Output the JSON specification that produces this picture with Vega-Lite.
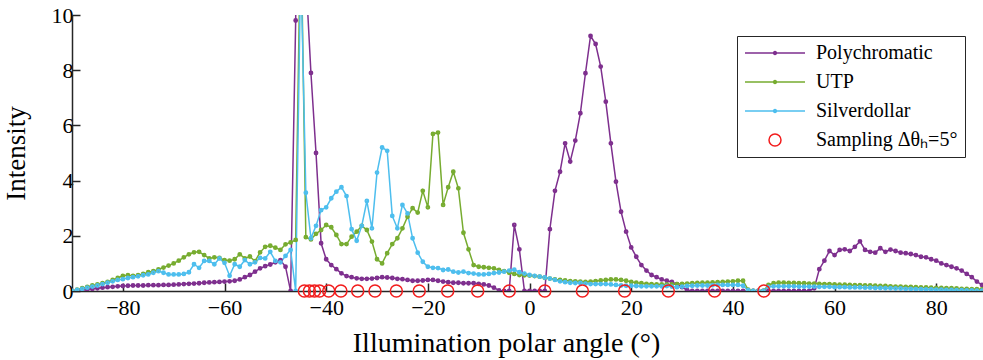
{
"$schema":"https://vega.github.io/schema/vega-lite/v6.json",
"autosize":{"type":"none"},
"padding":{"left":72,"top":15,"right":0,"bottom":69},
"width":911,"height":276,
"background":"white",
"config":{"view":{"stroke":null},
"axis":{"grid":false,"domainColor":"#262626","domainWidth":1.5,"tickColor":"#262626","tickWidth":1.5,"labelFont":"Liberation Serif","labelFontSize":22,"labelColor":"black","titleFont":"Liberation Serif","titleFontSize":27,"titleFontWeight":"normal","titleColor":"black","labelFlush":false,"labelOverlap":false},
"legend":{"orient":"none","legendX":665,"legendY":21,"strokeColor":"#262626","fillColor":"white","padding":7,"labelFont":"Liberation Serif","labelFontSize":20,"labelColor":"black","symbolSize":3600,"clipHeight":20,"rowPadding":9,"labelOffset":10,"symbolStrokeWidth":1.5,"symbolFillColor":"transparent","symbolOpacity":1}},
"layer":[
{"data":{"values":[
{"series":"Polychromatic","x":-90,"y":0},{"series":"Polychromatic","x":-89,"y":0.02},{"series":"Polychromatic","x":-88,"y":0.04},{"series":"Polychromatic","x":-87,"y":0.06},{"series":"Polychromatic","x":-86,"y":0.08},{"series":"Polychromatic","x":-85,"y":0.1},{"series":"Polychromatic","x":-84,"y":0.12},{"series":"Polychromatic","x":-83,"y":0.14},{"series":"Polychromatic","x":-82,"y":0.15},{"series":"Polychromatic","x":-81,"y":0.17},
{"series":"Polychromatic","x":-80,"y":0.18},{"series":"Polychromatic","x":-79,"y":0.19},{"series":"Polychromatic","x":-78,"y":0.2},{"series":"Polychromatic","x":-77,"y":0.2},{"series":"Polychromatic","x":-76,"y":0.2},{"series":"Polychromatic","x":-75,"y":0.21},{"series":"Polychromatic","x":-74,"y":0.21},{"series":"Polychromatic","x":-73,"y":0.21},{"series":"Polychromatic","x":-72,"y":0.22},{"series":"Polychromatic","x":-71,"y":0.22},
{"series":"Polychromatic","x":-70,"y":0.23},{"series":"Polychromatic","x":-69,"y":0.24},{"series":"Polychromatic","x":-68,"y":0.25},{"series":"Polychromatic","x":-67,"y":0.26},{"series":"Polychromatic","x":-66,"y":0.27},{"series":"Polychromatic","x":-65,"y":0.28},{"series":"Polychromatic","x":-64,"y":0.3},{"series":"Polychromatic","x":-63,"y":0.31},{"series":"Polychromatic","x":-62,"y":0.32},{"series":"Polychromatic","x":-61,"y":0.33},
{"series":"Polychromatic","x":-60,"y":0.34},{"series":"Polychromatic","x":-59,"y":0.35},{"series":"Polychromatic","x":-58,"y":0.37},{"series":"Polychromatic","x":-57,"y":0.42},{"series":"Polychromatic","x":-56,"y":0.5},{"series":"Polychromatic","x":-55,"y":0.58},{"series":"Polychromatic","x":-54,"y":0.7},{"series":"Polychromatic","x":-53,"y":0.82},{"series":"Polychromatic","x":-52,"y":0.9},{"series":"Polychromatic","x":-51,"y":0.96},
{"series":"Polychromatic","x":-50,"y":1.04},{"series":"Polychromatic","x":-49,"y":1.12},{"series":"Polychromatic","x":-48,"y":0.88},{"series":"Polychromatic","x":-47,"y":0},{"series":"Polychromatic","x":-46,"y":9.8},{"series":"Polychromatic","x":-45,"y":30},{"series":"Polychromatic","x":-44,"y":11.4},{"series":"Polychromatic","x":-43,"y":7.9},{"series":"Polychromatic","x":-42,"y":5.0},{"series":"Polychromatic","x":-41,"y":1.73},
{"series":"Polychromatic","x":-40,"y":1.15},{"series":"Polychromatic","x":-39,"y":0.94},{"series":"Polychromatic","x":-38,"y":0.79},{"series":"Polychromatic","x":-37,"y":0.64},{"series":"Polychromatic","x":-36,"y":0.54},{"series":"Polychromatic","x":-35,"y":0.5},{"series":"Polychromatic","x":-34,"y":0.46},{"series":"Polychromatic","x":-33,"y":0.44},{"series":"Polychromatic","x":-32,"y":0.44},{"series":"Polychromatic","x":-31,"y":0.45},
{"series":"Polychromatic","x":-30,"y":0.47},{"series":"Polychromatic","x":-29,"y":0.5},{"series":"Polychromatic","x":-28,"y":0.49},{"series":"Polychromatic","x":-27,"y":0.47},{"series":"Polychromatic","x":-26,"y":0.44},{"series":"Polychromatic","x":-25,"y":0.43},{"series":"Polychromatic","x":-24,"y":0.4},{"series":"Polychromatic","x":-23,"y":0.37},{"series":"Polychromatic","x":-22,"y":0.37},{"series":"Polychromatic","x":-21,"y":0.38},
{"series":"Polychromatic","x":-20,"y":0.4},{"series":"Polychromatic","x":-19,"y":0.4},{"series":"Polychromatic","x":-18,"y":0.37},{"series":"Polychromatic","x":-17,"y":0.34},{"series":"Polychromatic","x":-16,"y":0.32},{"series":"Polychromatic","x":-15,"y":0.3},{"series":"Polychromatic","x":-14,"y":0.3},{"series":"Polychromatic","x":-13,"y":0.28},{"series":"Polychromatic","x":-12,"y":0.28},{"series":"Polychromatic","x":-11,"y":0.28},
{"series":"Polychromatic","x":-10,"y":0.26},{"series":"Polychromatic","x":-9,"y":0.24},{"series":"Polychromatic","x":-8,"y":0.2},{"series":"Polychromatic","x":-7,"y":0.12},{"series":"Polychromatic","x":-6,"y":0.02},{"series":"Polychromatic","x":-5,"y":0},{"series":"Polychromatic","x":-4,"y":0},{"series":"Polychromatic","x":-3,"y":2.39},{"series":"Polychromatic","x":-2,"y":1.51},{"series":"Polychromatic","x":-1,"y":0},
{"series":"Polychromatic","x":0,"y":0},{"series":"Polychromatic","x":1,"y":0},{"series":"Polychromatic","x":2,"y":0},{"series":"Polychromatic","x":3,"y":0},{"series":"Polychromatic","x":4,"y":2.24},{"series":"Polychromatic","x":5,"y":3.63},{"series":"Polychromatic","x":6,"y":4.32},{"series":"Polychromatic","x":7,"y":5.35},{"series":"Polychromatic","x":8,"y":4.69},{"series":"Polychromatic","x":9,"y":5.45},
{"series":"Polychromatic","x":10,"y":6.44},{"series":"Polychromatic","x":11,"y":7.89},{"series":"Polychromatic","x":12,"y":9.24},{"series":"Polychromatic","x":13,"y":8.95},{"series":"Polychromatic","x":14,"y":8.13},{"series":"Polychromatic","x":15,"y":6.86},{"series":"Polychromatic","x":16,"y":5.35},{"series":"Polychromatic","x":17,"y":3.96},{"series":"Polychromatic","x":18,"y":2.87},{"series":"Polychromatic","x":19,"y":2.15},
{"series":"Polychromatic","x":20,"y":1.58},{"series":"Polychromatic","x":21,"y":1.24},{"series":"Polychromatic","x":22,"y":0.94},{"series":"Polychromatic","x":23,"y":0.74},{"series":"Polychromatic","x":24,"y":0.58},{"series":"Polychromatic","x":25,"y":0.5},{"series":"Polychromatic","x":26,"y":0.42},{"series":"Polychromatic","x":27,"y":0.37},{"series":"Polychromatic","x":28,"y":0.33},{"series":"Polychromatic","x":29,"y":0.25},
{"series":"Polychromatic","x":30,"y":0.14},{"series":"Polychromatic","x":31,"y":0.03},{"series":"Polychromatic","x":32,"y":0},{"series":"Polychromatic","x":33,"y":0},{"series":"Polychromatic","x":34,"y":0},{"series":"Polychromatic","x":35,"y":0},{"series":"Polychromatic","x":36,"y":0},{"series":"Polychromatic","x":37,"y":0},{"series":"Polychromatic","x":38,"y":0},{"series":"Polychromatic","x":39,"y":0},
{"series":"Polychromatic","x":40,"y":0},{"series":"Polychromatic","x":41,"y":0},{"series":"Polychromatic","x":42,"y":0},{"series":"Polychromatic","x":43,"y":0},{"series":"Polychromatic","x":44,"y":0},{"series":"Polychromatic","x":45,"y":0},{"series":"Polychromatic","x":46,"y":0},{"series":"Polychromatic","x":47,"y":0},{"series":"Polychromatic","x":48,"y":0},{"series":"Polychromatic","x":49,"y":0},
{"series":"Polychromatic","x":50,"y":0},{"series":"Polychromatic","x":51,"y":0},{"series":"Polychromatic","x":52,"y":0},{"series":"Polychromatic","x":53,"y":0},{"series":"Polychromatic","x":54,"y":0},{"series":"Polychromatic","x":55,"y":0},{"series":"Polychromatic","x":56,"y":0.1},{"series":"Polychromatic","x":57,"y":0.79},{"series":"Polychromatic","x":58,"y":1.1},{"series":"Polychromatic","x":59,"y":1.45},
{"series":"Polychromatic","x":60,"y":1.3},{"series":"Polychromatic","x":61,"y":1.49},{"series":"Polychromatic","x":62,"y":1.51},{"series":"Polychromatic","x":63,"y":1.45},{"series":"Polychromatic","x":64,"y":1.6},{"series":"Polychromatic","x":65,"y":1.8},{"series":"Polychromatic","x":66,"y":1.49},{"series":"Polychromatic","x":67,"y":1.42},{"series":"Polychromatic","x":68,"y":1.39},{"series":"Polychromatic","x":69,"y":1.55},
{"series":"Polychromatic","x":70,"y":1.42},{"series":"Polychromatic","x":71,"y":1.5},{"series":"Polychromatic","x":72,"y":1.45},{"series":"Polychromatic","x":73,"y":1.39},{"series":"Polychromatic","x":74,"y":1.37},{"series":"Polychromatic","x":75,"y":1.34},{"series":"Polychromatic","x":76,"y":1.3},{"series":"Polychromatic","x":77,"y":1.24},{"series":"Polychromatic","x":78,"y":1.22},{"series":"Polychromatic","x":79,"y":1.15},
{"series":"Polychromatic","x":80,"y":1.1},{"series":"Polychromatic","x":81,"y":1.0},{"series":"Polychromatic","x":82,"y":0.94},{"series":"Polychromatic","x":83,"y":0.88},{"series":"Polychromatic","x":84,"y":0.82},{"series":"Polychromatic","x":85,"y":0.74},{"series":"Polychromatic","x":86,"y":0.62},{"series":"Polychromatic","x":87,"y":0.5},{"series":"Polychromatic","x":88,"y":0.34},{"series":"Polychromatic","x":89,"y":0.22},{"series":"Polychromatic","x":90,"y":0.1},
{"series":"UTP","x":-90,"y":0},{"series":"UTP","x":-89,"y":0.05},{"series":"UTP","x":-88,"y":0.1},{"series":"UTP","x":-87,"y":0.15},{"series":"UTP","x":-86,"y":0.2},{"series":"UTP","x":-85,"y":0.24},{"series":"UTP","x":-84,"y":0.28},{"series":"UTP","x":-83,"y":0.33},{"series":"UTP","x":-82,"y":0.4},{"series":"UTP","x":-81,"y":0.47},
{"series":"UTP","x":-80,"y":0.55},{"series":"UTP","x":-79,"y":0.57},{"series":"UTP","x":-78,"y":0.55},{"series":"UTP","x":-77,"y":0.57},{"series":"UTP","x":-76,"y":0.62},{"series":"UTP","x":-75,"y":0.68},{"series":"UTP","x":-74,"y":0.72},{"series":"UTP","x":-73,"y":0.78},{"series":"UTP","x":-72,"y":0.85},{"series":"UTP","x":-71,"y":0.92},
{"series":"UTP","x":-70,"y":1.0},{"series":"UTP","x":-69,"y":1.1},{"series":"UTP","x":-68,"y":1.22},{"series":"UTP","x":-67,"y":1.33},{"series":"UTP","x":-66,"y":1.4},{"series":"UTP","x":-65,"y":1.42},{"series":"UTP","x":-64,"y":1.3},{"series":"UTP","x":-63,"y":1.18},{"series":"UTP","x":-62,"y":1.22},{"series":"UTP","x":-61,"y":1.2},
{"series":"UTP","x":-60,"y":1.12},{"series":"UTP","x":-59,"y":1.1},{"series":"UTP","x":-58,"y":1.15},{"series":"UTP","x":-57,"y":1.33},{"series":"UTP","x":-56,"y":1.18},{"series":"UTP","x":-55,"y":1.25},{"series":"UTP","x":-54,"y":1.08},{"series":"UTP","x":-53,"y":1.4},{"series":"UTP","x":-52,"y":1.6},{"series":"UTP","x":-51,"y":1.64},
{"series":"UTP","x":-50,"y":1.57},{"series":"UTP","x":-49,"y":1.49},{"series":"UTP","x":-48,"y":1.69},{"series":"UTP","x":-47,"y":1.76},{"series":"UTP","x":-46,"y":1.85},{"series":"UTP","x":-45,"y":13.5},{"series":"UTP","x":-44,"y":1.95},{"series":"UTP","x":-43,"y":1.87},{"series":"UTP","x":-42,"y":2.07},{"series":"UTP","x":-41,"y":2.21},
{"series":"UTP","x":-40,"y":2.39},{"series":"UTP","x":-39,"y":2.31},{"series":"UTP","x":-38,"y":2.03},{"series":"UTP","x":-37,"y":1.7},{"series":"UTP","x":-36,"y":1.7},{"series":"UTP","x":-35,"y":1.97},{"series":"UTP","x":-34,"y":2.15},{"series":"UTP","x":-33,"y":2.36},{"series":"UTP","x":-32,"y":2.21},{"series":"UTP","x":-31,"y":1.79},
{"series":"UTP","x":-30,"y":1.15},{"series":"UTP","x":-29,"y":1.0},{"series":"UTP","x":-28,"y":1.37},{"series":"UTP","x":-27,"y":1.7},{"series":"UTP","x":-26,"y":1.91},{"series":"UTP","x":-25,"y":2.27},{"series":"UTP","x":-24,"y":2.69},{"series":"UTP","x":-23,"y":3.0},{"series":"UTP","x":-22,"y":2.84},{"series":"UTP","x":-21,"y":3.63},
{"series":"UTP","x":-20,"y":3.03},{"series":"UTP","x":-19,"y":5.69},{"series":"UTP","x":-18,"y":5.74},{"series":"UTP","x":-17,"y":3.12},{"series":"UTP","x":-16,"y":3.76},{"series":"UTP","x":-15,"y":4.32},{"series":"UTP","x":-14,"y":3.72},{"series":"UTP","x":-13,"y":2.11},{"series":"UTP","x":-12,"y":1.51},{"series":"UTP","x":-11,"y":0.94},
{"series":"UTP","x":-10,"y":0.88},{"series":"UTP","x":-9,"y":0.86},{"series":"UTP","x":-8,"y":0.84},{"series":"UTP","x":-7,"y":0.82},{"series":"UTP","x":-6,"y":0.76},{"series":"UTP","x":-5,"y":0.72},{"series":"UTP","x":-4,"y":0.66},{"series":"UTP","x":-3,"y":0.62},{"series":"UTP","x":-2,"y":0.58},{"series":"UTP","x":-1,"y":0.57},
{"series":"UTP","x":0,"y":0.56},{"series":"UTP","x":1,"y":0.54},{"series":"UTP","x":2,"y":0.52},{"series":"UTP","x":3,"y":0.48},{"series":"UTP","x":4,"y":0.45},{"series":"UTP","x":5,"y":0.42},{"series":"UTP","x":6,"y":0.4},{"series":"UTP","x":7,"y":0.38},{"series":"UTP","x":8,"y":0.36},{"series":"UTP","x":9,"y":0.35},
{"series":"UTP","x":10,"y":0.34},{"series":"UTP","x":11,"y":0.33},{"series":"UTP","x":12,"y":0.34},{"series":"UTP","x":13,"y":0.36},{"series":"UTP","x":14,"y":0.38},{"series":"UTP","x":15,"y":0.4},{"series":"UTP","x":16,"y":0.42},{"series":"UTP","x":17,"y":0.42},{"series":"UTP","x":18,"y":0.4},{"series":"UTP","x":19,"y":0.37},
{"series":"UTP","x":20,"y":0.33},{"series":"UTP","x":21,"y":0.3},{"series":"UTP","x":22,"y":0.28},{"series":"UTP","x":23,"y":0.26},{"series":"UTP","x":24,"y":0.25},{"series":"UTP","x":25,"y":0.24},{"series":"UTP","x":26,"y":0.24},{"series":"UTP","x":27,"y":0.24},{"series":"UTP","x":28,"y":0.24},{"series":"UTP","x":29,"y":0.25},
{"series":"UTP","x":30,"y":0.26},{"series":"UTP","x":31,"y":0.27},{"series":"UTP","x":32,"y":0.28},{"series":"UTP","x":33,"y":0.29},{"series":"UTP","x":34,"y":0.3},{"series":"UTP","x":35,"y":0.3},{"series":"UTP","x":36,"y":0.31},{"series":"UTP","x":37,"y":0.32},{"series":"UTP","x":38,"y":0.33},{"series":"UTP","x":39,"y":0.34},
{"series":"UTP","x":40,"y":0.35},{"series":"UTP","x":41,"y":0.37},{"series":"UTP","x":42,"y":0.37},{"series":"UTP","x":43,"y":0.05},{"series":"UTP","x":44,"y":0},{"series":"UTP","x":45,"y":0},{"series":"UTP","x":46,"y":0},{"series":"UTP","x":47,"y":0.22},{"series":"UTP","x":48,"y":0.28},{"series":"UTP","x":49,"y":0.3},
{"series":"UTP","x":50,"y":0.3},{"series":"UTP","x":51,"y":0.29},{"series":"UTP","x":52,"y":0.29},{"series":"UTP","x":53,"y":0.28},{"series":"UTP","x":54,"y":0.28},{"series":"UTP","x":55,"y":0.27},{"series":"UTP","x":56,"y":0.27},{"series":"UTP","x":57,"y":0.26},{"series":"UTP","x":58,"y":0.25},{"series":"UTP","x":59,"y":0.25},
{"series":"UTP","x":60,"y":0.24},{"series":"UTP","x":61,"y":0.23},{"series":"UTP","x":62,"y":0.23},{"series":"UTP","x":63,"y":0.22},{"series":"UTP","x":64,"y":0.21},{"series":"UTP","x":65,"y":0.21},{"series":"UTP","x":66,"y":0.2},{"series":"UTP","x":67,"y":0.2},{"series":"UTP","x":68,"y":0.19},{"series":"UTP","x":69,"y":0.18},
{"series":"UTP","x":70,"y":0.18},{"series":"UTP","x":71,"y":0.17},{"series":"UTP","x":72,"y":0.16},{"series":"UTP","x":73,"y":0.16},{"series":"UTP","x":74,"y":0.15},{"series":"UTP","x":75,"y":0.15},{"series":"UTP","x":76,"y":0.14},{"series":"UTP","x":77,"y":0.13},{"series":"UTP","x":78,"y":0.13},{"series":"UTP","x":79,"y":0.12},
{"series":"UTP","x":80,"y":0.11},{"series":"UTP","x":81,"y":0.11},{"series":"UTP","x":82,"y":0.1},{"series":"UTP","x":83,"y":0.1},{"series":"UTP","x":84,"y":0.09},{"series":"UTP","x":85,"y":0.08},{"series":"UTP","x":86,"y":0.08},{"series":"UTP","x":87,"y":0.07},{"series":"UTP","x":88,"y":0.07},{"series":"UTP","x":89,"y":0.06},{"series":"UTP","x":90,"y":0.06},
{"series":"Silverdollar","x":-90,"y":0},{"series":"Silverdollar","x":-89,"y":0.04},{"series":"Silverdollar","x":-88,"y":0.08},{"series":"Silverdollar","x":-87,"y":0.12},{"series":"Silverdollar","x":-86,"y":0.16},{"series":"Silverdollar","x":-85,"y":0.2},{"series":"Silverdollar","x":-84,"y":0.25},{"series":"Silverdollar","x":-83,"y":0.3},{"series":"Silverdollar","x":-82,"y":0.35},{"series":"Silverdollar","x":-81,"y":0.4},
{"series":"Silverdollar","x":-80,"y":0.43},{"series":"Silverdollar","x":-79,"y":0.47},{"series":"Silverdollar","x":-78,"y":0.5},{"series":"Silverdollar","x":-77,"y":0.53},{"series":"Silverdollar","x":-76,"y":0.57},{"series":"Silverdollar","x":-75,"y":0.6},{"series":"Silverdollar","x":-74,"y":0.66},{"series":"Silverdollar","x":-73,"y":0.72},{"series":"Silverdollar","x":-72,"y":0.66},{"series":"Silverdollar","x":-71,"y":0.6},
{"series":"Silverdollar","x":-70,"y":0.6},{"series":"Silverdollar","x":-69,"y":0.6},{"series":"Silverdollar","x":-68,"y":0.62},{"series":"Silverdollar","x":-67,"y":0.68},{"series":"Silverdollar","x":-66,"y":0.97},{"series":"Silverdollar","x":-65,"y":0.84},{"series":"Silverdollar","x":-64,"y":1.09},{"series":"Silverdollar","x":-63,"y":1.09},{"series":"Silverdollar","x":-62,"y":0.97},{"series":"Silverdollar","x":-61,"y":1.18},
{"series":"Silverdollar","x":-60,"y":1.02},{"series":"Silverdollar","x":-59,"y":0.55},{"series":"Silverdollar","x":-58,"y":0.97},{"series":"Silverdollar","x":-57,"y":0.88},{"series":"Silverdollar","x":-56,"y":1.12},{"series":"Silverdollar","x":-55,"y":0.97},{"series":"Silverdollar","x":-54,"y":1.04},{"series":"Silverdollar","x":-53,"y":1.2},{"series":"Silverdollar","x":-52,"y":1.18},{"series":"Silverdollar","x":-51,"y":1.42},
{"series":"Silverdollar","x":-50,"y":1.09},{"series":"Silverdollar","x":-49,"y":1.04},{"series":"Silverdollar","x":-48,"y":1.27},{"series":"Silverdollar","x":-47,"y":1.49},{"series":"Silverdollar","x":-46,"y":0},{"series":"Silverdollar","x":-45,"y":12},{"series":"Silverdollar","x":-44,"y":3.56},{"series":"Silverdollar","x":-43,"y":1.91},{"series":"Silverdollar","x":-42,"y":2.36},{"series":"Silverdollar","x":-41,"y":2.93},
{"series":"Silverdollar","x":-40,"y":3.03},{"series":"Silverdollar","x":-39,"y":3.36},{"series":"Silverdollar","x":-38,"y":3.6},{"series":"Silverdollar","x":-37,"y":3.76},{"series":"Silverdollar","x":-36,"y":3.44},{"series":"Silverdollar","x":-35,"y":2.24},{"series":"Silverdollar","x":-34,"y":1.82},{"series":"Silverdollar","x":-33,"y":2.36},{"series":"Silverdollar","x":-32,"y":3.26},{"series":"Silverdollar","x":-31,"y":2.27},
{"series":"Silverdollar","x":-30,"y":4.29},{"series":"Silverdollar","x":-29,"y":5.2},{"series":"Silverdollar","x":-28,"y":5.08},{"series":"Silverdollar","x":-27,"y":2.72},{"series":"Silverdollar","x":-26,"y":2.27},{"series":"Silverdollar","x":-25,"y":3.12},{"series":"Silverdollar","x":-24,"y":2.81},{"series":"Silverdollar","x":-23,"y":1.91},{"series":"Silverdollar","x":-22,"y":1.39},{"series":"Silverdollar","x":-21,"y":1.06},
{"series":"Silverdollar","x":-20,"y":0.88},{"series":"Silverdollar","x":-19,"y":0.84},{"series":"Silverdollar","x":-18,"y":0.83},{"series":"Silverdollar","x":-17,"y":0.76},{"series":"Silverdollar","x":-16,"y":0.78},{"series":"Silverdollar","x":-15,"y":0.7},{"series":"Silverdollar","x":-14,"y":0.67},{"series":"Silverdollar","x":-13,"y":0.7},{"series":"Silverdollar","x":-12,"y":0.65},{"series":"Silverdollar","x":-11,"y":0.63},
{"series":"Silverdollar","x":-10,"y":0.6},{"series":"Silverdollar","x":-9,"y":0.6},{"series":"Silverdollar","x":-8,"y":0.62},{"series":"Silverdollar","x":-7,"y":0.65},{"series":"Silverdollar","x":-6,"y":0.67},{"series":"Silverdollar","x":-5,"y":0.7},{"series":"Silverdollar","x":-4,"y":0.74},{"series":"Silverdollar","x":-3,"y":0.77},{"series":"Silverdollar","x":-2,"y":0.68},{"series":"Silverdollar","x":-1,"y":0.63},
{"series":"Silverdollar","x":0,"y":0.58},{"series":"Silverdollar","x":1,"y":0.55},{"series":"Silverdollar","x":2,"y":0.52},{"series":"Silverdollar","x":3,"y":0.49},{"series":"Silverdollar","x":4,"y":0.45},{"series":"Silverdollar","x":5,"y":0.4},{"series":"Silverdollar","x":6,"y":0.35},{"series":"Silverdollar","x":7,"y":0.32},{"series":"Silverdollar","x":8,"y":0.3},{"series":"Silverdollar","x":9,"y":0.29},
{"series":"Silverdollar","x":10,"y":0.29},{"series":"Silverdollar","x":11,"y":0.27},{"series":"Silverdollar","x":12,"y":0.25},{"series":"Silverdollar","x":13,"y":0.25},{"series":"Silverdollar","x":14,"y":0.25},{"series":"Silverdollar","x":15,"y":0.25},{"series":"Silverdollar","x":16,"y":0.24},{"series":"Silverdollar","x":17,"y":0.22},{"series":"Silverdollar","x":18,"y":0.2},{"series":"Silverdollar","x":19,"y":0.19},
{"series":"Silverdollar","x":20,"y":0.19},{"series":"Silverdollar","x":21,"y":0.18},{"series":"Silverdollar","x":22,"y":0.17},{"series":"Silverdollar","x":23,"y":0.17},{"series":"Silverdollar","x":24,"y":0.17},{"series":"Silverdollar","x":25,"y":0.17},{"series":"Silverdollar","x":26,"y":0.17},{"series":"Silverdollar","x":27,"y":0.18},{"series":"Silverdollar","x":28,"y":0.16},{"series":"Silverdollar","x":29,"y":0.14},
{"series":"Silverdollar","x":30,"y":0.16},{"series":"Silverdollar","x":31,"y":0.18},{"series":"Silverdollar","x":32,"y":0.19},{"series":"Silverdollar","x":33,"y":0.2},{"series":"Silverdollar","x":34,"y":0.2},{"series":"Silverdollar","x":35,"y":0.2},{"series":"Silverdollar","x":36,"y":0.21},{"series":"Silverdollar","x":37,"y":0.22},{"series":"Silverdollar","x":38,"y":0.22},{"series":"Silverdollar","x":39,"y":0.22},
{"series":"Silverdollar","x":40,"y":0.22},{"series":"Silverdollar","x":41,"y":0.22},{"series":"Silverdollar","x":42,"y":0.19},{"series":"Silverdollar","x":43,"y":0.03},{"series":"Silverdollar","x":44,"y":0},{"series":"Silverdollar","x":45,"y":0},{"series":"Silverdollar","x":46,"y":0},{"series":"Silverdollar","x":47,"y":0.15},{"series":"Silverdollar","x":48,"y":0.17},{"series":"Silverdollar","x":49,"y":0.17},
{"series":"Silverdollar","x":50,"y":0.17},{"series":"Silverdollar","x":51,"y":0.17},{"series":"Silverdollar","x":52,"y":0.17},{"series":"Silverdollar","x":53,"y":0.16},{"series":"Silverdollar","x":54,"y":0.16},{"series":"Silverdollar","x":55,"y":0.16},{"series":"Silverdollar","x":56,"y":0.16},{"series":"Silverdollar","x":57,"y":0.15},{"series":"Silverdollar","x":58,"y":0.15},{"series":"Silverdollar","x":59,"y":0.15},
{"series":"Silverdollar","x":60,"y":0.14},{"series":"Silverdollar","x":61,"y":0.14},{"series":"Silverdollar","x":62,"y":0.14},{"series":"Silverdollar","x":63,"y":0.13},{"series":"Silverdollar","x":64,"y":0.13},{"series":"Silverdollar","x":65,"y":0.13},{"series":"Silverdollar","x":66,"y":0.12},{"series":"Silverdollar","x":67,"y":0.12},{"series":"Silverdollar","x":68,"y":0.11},{"series":"Silverdollar","x":69,"y":0.11},
{"series":"Silverdollar","x":70,"y":0.1},{"series":"Silverdollar","x":71,"y":0.1},{"series":"Silverdollar","x":72,"y":0.09},{"series":"Silverdollar","x":73,"y":0.09},{"series":"Silverdollar","x":74,"y":0.08},{"series":"Silverdollar","x":75,"y":0.08},{"series":"Silverdollar","x":76,"y":0.07},{"series":"Silverdollar","x":77,"y":0.07},{"series":"Silverdollar","x":78,"y":0.06},{"series":"Silverdollar","x":79,"y":0.06},
{"series":"Silverdollar","x":80,"y":0.05},{"series":"Silverdollar","x":81,"y":0.05},{"series":"Silverdollar","x":82,"y":0.04},{"series":"Silverdollar","x":83,"y":0.04},{"series":"Silverdollar","x":84,"y":0.03},{"series":"Silverdollar","x":85,"y":0.03},{"series":"Silverdollar","x":86,"y":0.02},{"series":"Silverdollar","x":87,"y":0.02},{"series":"Silverdollar","x":88,"y":0.01},{"series":"Silverdollar","x":89,"y":0.01},{"series":"Silverdollar","x":90,"y":0}
]},
"layer":[
{"mark":{"type":"line","strokeWidth":1.5,"clip":true},
"encoding":{
"x":{"field":"x","type":"quantitative","scale":{"domain":[-90,89.2],"nice":false,"zero":false},"axis":{"values":[-80,-60,-40,-20,0,20,40,60,80],"tickSize":-8,"labelPadding":14,"title":"Illumination polar angle (°)","titlePadding":11,"titleFontSize":28,"titleX":434}},
"y":{"field":"y","type":"quantitative","scale":{"domain":[0,10],"nice":false},"axis":{"values":[0,2,4,6,8,10],"tickSize":-8,"labelPadding":7,"title":"Intensity","titlePadding":21}},
"color":{"field":"series","type":"nominal","title":null,"scale":{"domain":["Polychromatic","UTP","Silverdollar","Sampling Δθₕ=5°"],"range":["#7E2F8E","#77AC30","#4DBEEE","#F21C1C"]}}}},
{"mark":{"type":"point","filled":false,"size":8,"strokeWidth":2,"opacity":1,"clip":true},
"encoding":{"x":{"field":"x","type":"quantitative"},"y":{"field":"y","type":"quantitative"},"color":{"field":"series","type":"nominal","title":null}}}
]},
{"data":{"values":[
{"series":"Sampling Δθₕ=5°","x":-44.3,"y":0},{"series":"Sampling Δθₕ=5°","x":-43.3,"y":0},{"series":"Sampling Δθₕ=5°","x":-42.3,"y":0},{"series":"Sampling Δθₕ=5°","x":-41.3,"y":0},{"series":"Sampling Δθₕ=5°","x":-39.5,"y":0},{"series":"Sampling Δθₕ=5°","x":-37.1,"y":0},{"series":"Sampling Δθₕ=5°","x":-33.8,"y":0},{"series":"Sampling Δθₕ=5°","x":-30.4,"y":0},{"series":"Sampling Δθₕ=5°","x":-26.2,"y":0},{"series":"Sampling Δθₕ=5°","x":-21.7,"y":0},
{"series":"Sampling Δθₕ=5°","x":-16.1,"y":0},{"series":"Sampling Δθₕ=5°","x":-10.2,"y":0},{"series":"Sampling Δθₕ=5°","x":-4.0,"y":0},{"series":"Sampling Δθₕ=5°","x":3.0,"y":0},{"series":"Sampling Δθₕ=5°","x":10.4,"y":0},{"series":"Sampling Δθₕ=5°","x":18.7,"y":0},{"series":"Sampling Δθₕ=5°","x":27.3,"y":0},{"series":"Sampling Δθₕ=5°","x":36.4,"y":0},{"series":"Sampling Δθₕ=5°","x":46.1,"y":0}
]},
"mark":{"type":"point","filled":false,"size":3600,"strokeWidth":1.5,"opacity":1},
"encoding":{"x":{"field":"x","type":"quantitative"},"y":{"field":"y","type":"quantitative"},"color":{"field":"series","type":"nominal","title":null},
"shape":{"field":"series","type":"nominal","title":null,"scale":{"domain":["Polychromatic","UTP","Silverdollar","Sampling Δθₕ=5°"],"range":["M-1,0H1M-0.05,0A0.05,0.05,0,1,0,0.05,0A0.05,0.05,0,1,0,-0.05,0","M-1,0H1M-0.05,0A0.05,0.05,0,1,0,0.05,0A0.05,0.05,0,1,0,-0.05,0","M-1,0H1M-0.05,0A0.05,0.05,0,1,0,0.05,0A0.05,0.05,0,1,0,-0.05,0","M-0.2,0A0.2,0.2,0,1,0,0.2,0A0.2,0.2,0,1,0,-0.2,0"]}}}}
]
}
